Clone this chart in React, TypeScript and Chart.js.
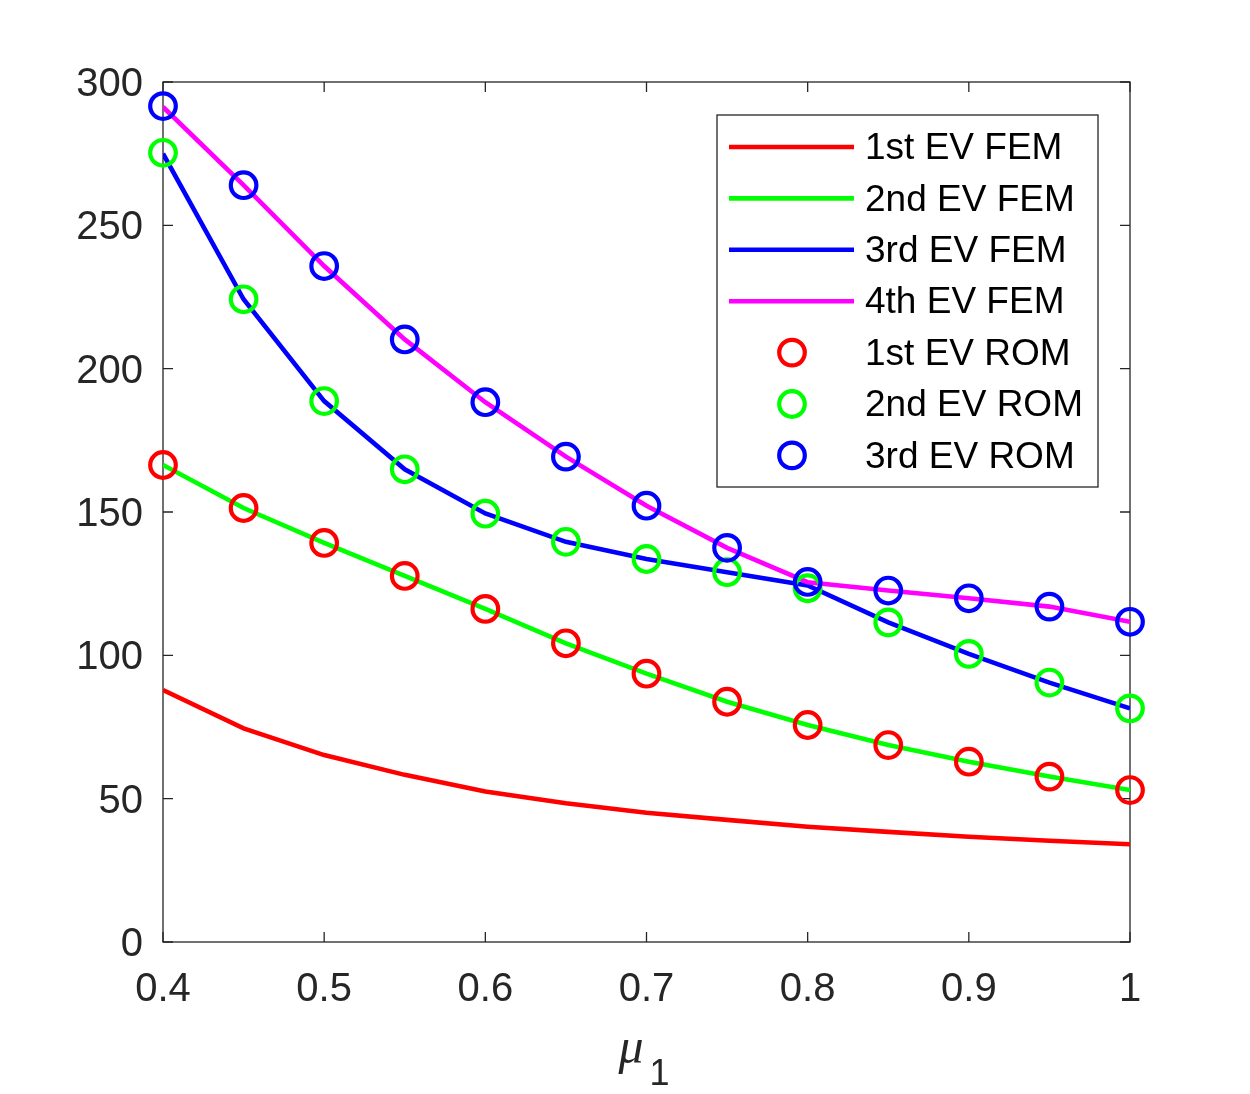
import React, { useEffect, useRef } from "react";
import { Chart, registerables } from "chart.js";

Chart.register(...registerables);

// ---- data ----
const muValues = [0.4, 0.45, 0.5, 0.55, 0.6, 0.65, 0.7, 0.75, 0.8, 0.85, 0.9, 0.95, 1.0];

const fem1 = [87.9, 74.5, 65.2, 58.3, 52.5, 48.4, 45.1, 42.6, 40.2, 38.4, 36.7, 35.3, 34.1];
const fem2 = [166.4, 151.4, 139.2, 127.7, 116.2, 104.2, 93.6, 83.8, 75.7, 68.7, 62.9, 57.7, 53.0];
const fem3 = [275.0, 224.2, 188.7, 164.9, 149.5, 139.6, 133.6, 129.0, 124.4, 111.5, 100.5, 90.5, 81.5];
const fem4 = [291.3, 264.0, 235.8, 210.2, 188.3, 169.3, 152.2, 137.5, 125.5, 122.6, 119.9, 117.0, 111.7];

const rom1 = [166.4, 151.4, 139.2, 127.7, 116.2, 104.2, 93.6, 83.8, 75.7, 68.7, 62.9, 57.7, 53.0];
const rom2 = [275.3, 224.2, 188.7, 164.9, 149.4, 139.6, 133.6, 129.0, 123.4, 111.5, 100.5, 90.5, 81.5];
const rom3 = [291.6, 264.0, 235.8, 210.2, 188.3, 169.3, 152.2, 137.5, 125.6, 122.6, 119.9, 117.0, 111.7];

const femLabels = ["1st EV FEM", "2nd EV FEM", "3rd EV FEM", "4th EV FEM"];
const romLabels = ["1st EV ROM", "2nd EV ROM", "3rd EV ROM"];
const femColors = ["#FF0000", "#00FF00", "#0000FF", "#FF00FF"];
const romColors = ["#FF0000", "#00FF00", "#0000FF"];

const xTicks = [0.4, 0.5, 0.6, 0.7, 0.8, 0.9, 1];
const yTicks = [0, 50, 100, 150, 200, 250, 300];

const AXIS_COLOR = "#262626";
const SANS = '"Liberation Sans", Arial, sans-serif';
const LEGEND_FONT = '37px ' + SANS;

const toPoints = (ys: number[]) => muValues.map((x, i) => ({ x, y: ys[i] }));

const framePlugin = {
  id: "matlabFrame",
  beforeDatasetsDraw(chart: any) {
    const { ctx, chartArea: a, scales } = chart;
    ctx.save();
    ctx.strokeStyle = AXIS_COLOR;
    ctx.lineWidth = 1.3;
    ctx.strokeRect(a.left, a.top, a.right - a.left, a.bottom - a.top);
    const tl = 10;
    ctx.beginPath();
    scales.x.ticks.forEach((t: any) => {
      const px = scales.x.getPixelForValue(t.value);
      ctx.moveTo(px, a.bottom);
      ctx.lineTo(px, a.bottom - tl);
      ctx.moveTo(px, a.top);
      ctx.lineTo(px, a.top + tl);
    });
    scales.y.ticks.forEach((t: any) => {
      const py = scales.y.getPixelForValue(t.value);
      ctx.moveTo(a.left, py);
      ctx.lineTo(a.left + tl, py);
      ctx.moveTo(a.right, py);
      ctx.lineTo(a.right - tl, py);
    });
    ctx.stroke();
    ctx.restore();
  },
};

const legendPlugin = {
  id: "boxLegend",
  afterDraw(chart: any) {
    const { ctx } = chart;
    const x0 = 717;
    const y0 = 115;
    const w = 381;
    const h = 372;
    ctx.save();
    ctx.fillStyle = "#FFFFFF";
    ctx.fillRect(x0, y0, w, h);
    ctx.strokeStyle = AXIS_COLOR;
    ctx.lineWidth = 1.3;
    ctx.strokeRect(x0, y0, w, h);
    chart.data.datasets.forEach((ds: any, i: number) => {
      const cy = y0 + 32 + i * 51.4;
      if (ds.showLine === false) {
        ctx.beginPath();
        ctx.strokeStyle = ds.pointBorderColor;
        ctx.lineWidth = ds.pointBorderWidth;
        ctx.arc(792, cy, ds.pointRadius, 0, Math.PI * 2);
        ctx.stroke();
      } else {
        ctx.beginPath();
        ctx.strokeStyle = ds.borderColor;
        ctx.lineWidth = ds.borderWidth;
        ctx.moveTo(729, cy);
        ctx.lineTo(854, cy);
        ctx.stroke();
      }
      ctx.fillStyle = "#000000";
      ctx.font = LEGEND_FONT;
      ctx.textAlign = "left";
      ctx.textBaseline = "middle";
      ctx.fillText(ds.label, 865, cy + 2);
    });
    ctx.restore();
  },
};

const xTitlePlugin = {
  id: "xTitle",
  afterDraw(chart: any) {
    const { ctx, chartArea: a } = chart;
    const cx = (a.left + a.right) / 2;
    ctx.save();
    ctx.fillStyle = AXIS_COLOR;
    ctx.textBaseline = "alphabetic";
    ctx.textAlign = "left";
    ctx.font = 'italic 50px "Liberation Serif", "Times New Roman", serif';
    ctx.fillText("μ", cx - 28, a.bottom + 121);
    ctx.font = '36px ' + SANS;
    ctx.fillText("1", cx + 3, a.bottom + 143);
    ctx.restore();
  },
};

export default function App() {
  const canvasRef = useRef<HTMLCanvasElement | null>(null);

  useEffect(() => {
    if (!canvasRef.current) return;
    const femSets = [fem1, fem2, fem3, fem4].map((vals, i) => ({
      label: femLabels[i],
      data: toPoints(vals),
      borderColor: femColors[i],
      backgroundColor: femColors[i],
      borderWidth: 4.6,
      pointRadius: 0,
      pointHoverRadius: 0,
      showLine: true,
      tension: 0,
      order: 10 - i,
    }));
    const romSets = [rom1, rom2, rom3].map((vals, i) => ({
      label: romLabels[i],
      data: toPoints(vals),
      showLine: false,
      borderColor: romColors[i],
      backgroundColor: "rgba(0,0,0,0)",
      pointBorderColor: romColors[i],
      pointBackgroundColor: "rgba(0,0,0,0)",
      pointRadius: 12.8,
      pointHoverRadius: 12.8,
      pointBorderWidth: 4.2,
      pointStyle: "circle",
      clip: false,
      order: 4 - i,
    }));

    const chart = new Chart(canvasRef.current, {
      type: "scatter",
      data: { datasets: [...femSets, ...romSets] as any },
      options: {
        animation: false,
        responsive: false,
        devicePixelRatio: 1,
        layout: { padding: { left: 0, top: 82, right: 120, bottom: 0 } },
        plugins: {
          legend: { display: false },
          tooltip: { enabled: false },
          title: { display: false },
        },
        scales: {
          x: {
            type: "linear",
            min: 0.4,
            max: 1,
            afterBuildTicks: (s: any) => {
              s.ticks = xTicks.map((v) => ({ value: v }));
            },
            afterFit: (s: any) => {
              s.height = 152;
            },
            grid: { display: false, drawTicks: false },
            border: { display: false },
            ticks: {
              color: AXIS_COLOR,
              font: { family: SANS, size: 40 },
              padding: 24,
              maxRotation: 0,
              autoSkip: false,
              callback: (v: any) => String(Math.round(Number(v) * 10) / 10),
            },
          },
          y: {
            type: "linear",
            min: 0,
            max: 300,
            afterBuildTicks: (s: any) => {
              s.ticks = yTicks.map((v) => ({ value: v }));
            },
            afterFit: (s: any) => {
              s.width = 163;
            },
            grid: { display: false, drawTicks: false },
            border: { display: false },
            ticks: {
              color: AXIS_COLOR,
              font: { family: SANS, size: 40 },
              padding: 20,
              labelOffset: 3,
              autoSkip: false,
              callback: (v: any) => String(v),
            },
          },
        },
      },
      plugins: [framePlugin, legendPlugin, xTitlePlugin],
    });
    return () => chart.destroy();
  }, []);

  return (
    <div style={{ position: "absolute", left: 0, top: 0, width: 1250, height: 1094, background: "#FFFFFF" }}>
      <canvas ref={canvasRef} width={1250} height={1094} style={{ width: 1250, height: 1094, display: "block" }} />
    </div>
  );
}
